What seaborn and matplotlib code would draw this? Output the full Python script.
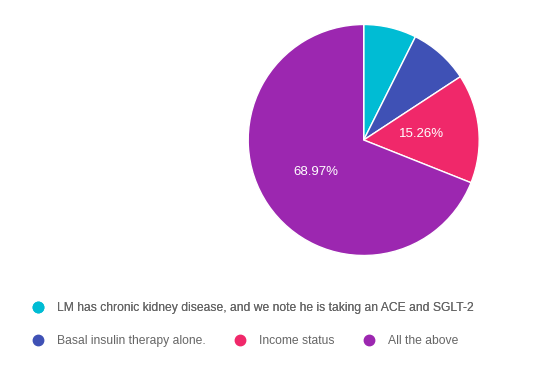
import matplotlib
matplotlib.use("Agg")
import matplotlib.pyplot as plt
from matplotlib.lines import Line2D
import seaborn as sns

# --- DATA ---
answers = [
    "LM has chronic kidney disease, and we note he is taking an ACE and SGLT-2",
    "Basal insulin therapy alone.",
    "Income status",
    "All the above",
]
shares = [7.39, 8.38, 15.26, 68.97]
colors = ["#00BCD4", "#3F51B5", "#F0286A", "#9C27B0"]

sns.set_theme(style="white")
plt.rcParams["font.family"] = ["Liberation Sans", "DejaVu Sans"]

W, H = 537, 369
fig = plt.figure(figsize=(W / 100, H / 100), dpi=100)
fig.patch.set_facecolor("white")

# pie placed by pixel centre / radius
cx, cy, r = 363.7, 140.0, 115.5
ax = fig.add_axes([(cx - r) / W, (H - cy - r) / H, 2 * r / W, 2 * r / H])


def pct_label(p):
    return f"{p:.2f}%" if p >= 10 else ""


wedges, _, autotexts = ax.pie(
    shares, colors=colors, startangle=90, counterclock=False,
    autopct=pct_label, pctdistance=0.5,
    wedgeprops=dict(edgecolor="white", linewidth=1),
    textprops=dict(color="white", fontsize=9.5),
)
ax.set_xlim(-1, 1)
ax.set_ylim(-1, 1)
ax.axis("off")

# --- LEGEND (flow layout: first answer alone, then three in a row) ---
fs = 8.75
fs_px = fs * 100 / 72
handles = [Line2D([], [], marker="o", linestyle="none", markersize=7.5,
                  markerfacecolor=c, markeredgecolor=c) for c in colors]

leg_kw = dict(frameon=False, fontsize=fs, handlelength=1.0,
              handletextpad=(57 - 38.3 - fs_px / 2) / fs_px,
              borderpad=0, borderaxespad=0, loc="center left", labelcolor="#666666")

x0 = (38.3 - fs_px / 2) / W
leg1 = fig.legend(handles[:1], answers[:1], bbox_to_anchor=(x0, 1 - 308 / H), **leg_kw)
fig.add_artist(leg1)
fig.legend(handles[1:], answers[1:], ncol=3, columnspacing=28.5 / fs_px,
           bbox_to_anchor=(x0, 1 - 341 / H), **leg_kw)

fig.savefig("out.png", dpi=100, facecolor="white")
